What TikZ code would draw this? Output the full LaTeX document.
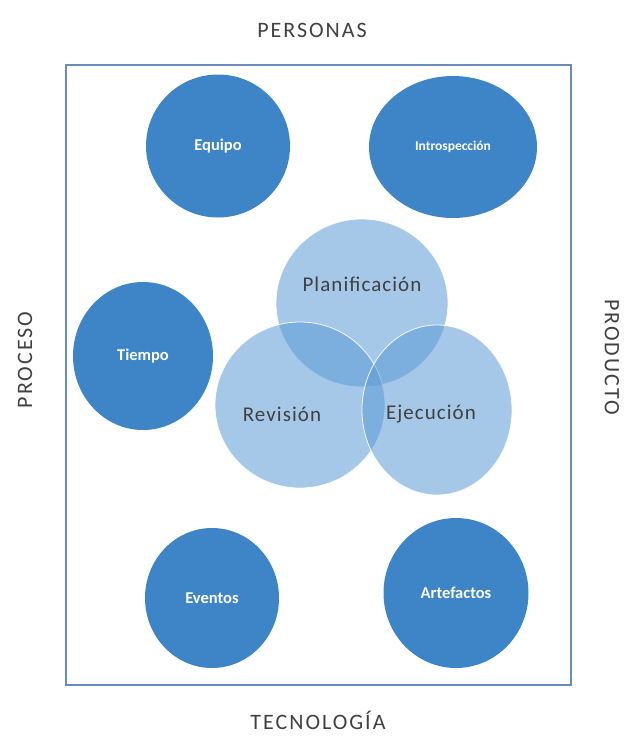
\documentclass[tikz,border=0pt]{standalone}
\usepackage{fontspec}
\setmainfont{Carlito}
\usetikzlibrary{shapes.geometric}
\definecolor{disc}{RGB}{61,133,198}
\definecolor{venn}{RGB}{91,155,213}
\definecolor{framecol}{RGB}{104,139,190}
\definecolor{ink}{RGB}{64,64,64}
\tikzset{
  topic/.style={ellipse, fill=disc, inner sep=0pt, text=white,
    font=\bfseries\fontsize{16.5}{18}\selectfont},
  phase/.style={ellipse, fill=venn, fill opacity=0.55, draw=white,
    draw opacity=0.9, line width=0.8pt, inner sep=0pt},
  phasetext/.style={text=ink, inner sep=0pt,
    font=\fontsize{21}{24}\selectfont\addfontfeature{LetterSpace=5}},
  side/.style={text=ink, inner sep=0pt,
    font=\fontsize{22}{25}\selectfont\addfontfeature{LetterSpace=9}}
}
\begin{document}
\begin{tikzpicture}[x=1pt,y=-1pt]
  \useasboundingbox (0,0) rectangle (630,737);
  % outer frame
  \draw[framecol, line width=1.4pt] (66,65) rectangle (571,685);
  % side labels
  \node[side] (personas) at (312,30) {PERSONAS};
  \node[side] (tecnologia) at (318,720) {TECNOLOGÍA};
  \node[side, rotate=90] (proceso) at (25,360) {PROCESO};
  \node[side, rotate=-90] (producto) at (612,357) {PRODUCTO};
  % outer topics
  \node[topic, minimum width=144pt, minimum height=143pt] (equipo) at (218,146) {Equipo};
  \node[topic, minimum width=168pt, minimum height=142pt, font=\bfseries\fontsize{13.5}{15}\selectfont] (intro) at (453,147) {Introspección};
  \node[topic, minimum width=140pt, minimum height=148pt] (tiempo) at (143,356) {Tiempo};
  \node[topic, minimum width=134pt, minimum height=140pt] (eventos) at (212,598) {Eventos};
  \node[topic, minimum width=145pt, minimum height=150pt] (artefactos) at (456,593) {Artefactos};
  % overlapping phases
  \node[phase, minimum width=172pt, minimum height=168pt] (plan) at (362,303) {};
  \node[phase, minimum width=170pt, minimum height=166pt] (rev) at (300,405) {};
  \node[phase, minimum width=150pt, minimum height=170pt] (eje) at (437,410) {};
  \node[phasetext] (plantext) at ([yshift=19pt]plan.center) {Planificación};
  \node[phasetext] (revtext) at ([xshift=-18pt,yshift=-9pt]rev.center) {Revisión};
  \node[phasetext] (ejetext) at ([xshift=-6pt,yshift=-4pt]eje.center) {Ejecución};
\end{tikzpicture}
\end{document}
